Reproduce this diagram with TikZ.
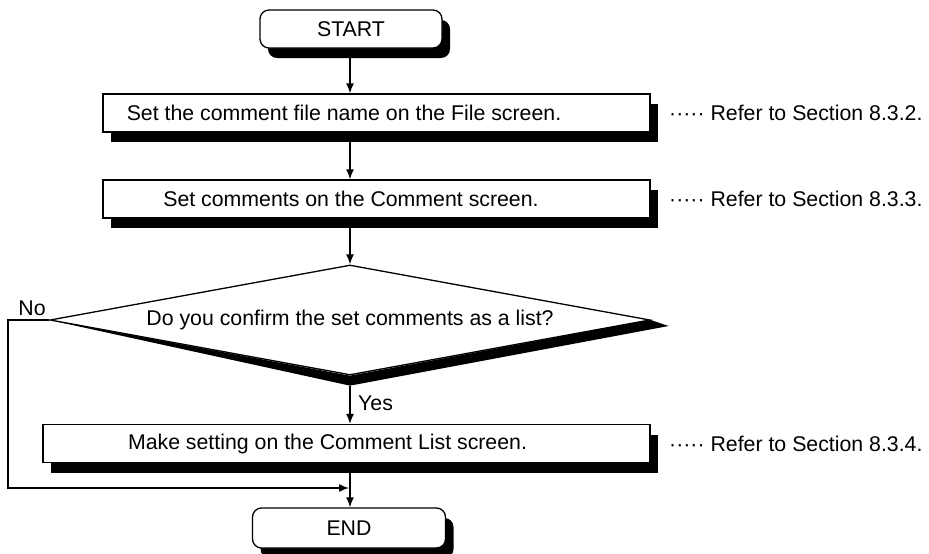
\documentclass[tikz,border=0pt]{standalone}
\usepackage{fontspec}
\setmainfont{Liberation Sans}
\usetikzlibrary{arrows.meta,shapes.geometric,shadows}
\begin{document}
\begin{tikzpicture}[x=1pt,y=-1pt,
  txt/.style={font=\fontsize{21.3}{24}\selectfont},
  proc/.style={txt, draw, line width=1.3pt, fill=white, minimum height=38pt, inner sep=0pt,
    drop shadow={shadow xshift=8pt, shadow yshift=-10pt, opacity=1, fill=black}},
  term/.style={proc, rounded corners=9pt},
  conn/.style={line width=1.5pt, -{Latex[length=10pt,width=8pt]}},
  lbl/.style={txt, inner sep=0pt}
]
\useasboundingbox (0,0) rectangle (929,554);
\coordinate (spine) at (350,0);
\node[term, minimum width=182pt] (start) at (351,29) {START};
\node[proc, minimum width=547pt] (b1) at (376.5,113) {Set the comment file name on the File screen.\hspace*{65pt}};
\node[proc, minimum width=547pt] (b2) at (376.5,199) {Set comments on the Comment screen.\hspace*{51pt}};
\node[txt, diamond, draw, line width=1.3pt, fill=white, aspect=5.45, inner sep=0pt,
  minimum width=600pt, minimum height=110pt] (dec) at (350,320) {Do you confirm the set comments as a list?};
\fill (dec.west) -- ([shift={(0,10)}]dec.south) -- ([shift={(18,6)}]dec.east) -- (dec.east) -- (dec.south) -- cycle;
\node[proc, minimum width=607pt] (b3) at (346.5,443.5) {Make setting on the Comment List screen.\hspace*{38pt}};
\node[term, minimum width=193pt, minimum height=40pt] (end) at (349,528) {END};

\node[lbl, anchor=west] (r1) at (669,113) {····· Refer to Section 8.3.2.};
\node[lbl, anchor=west] (r2) at (669,199) {····· Refer to Section 8.3.3.};
\node[lbl, anchor=west] (r3) at (669,443.5) {····· Refer to Section 8.3.4.};
\node[lbl] (no) at (32,308) {No};
\node[lbl, anchor=west] (yes) at (358,403) {Yes};

\coordinate (nl) at (8,322);
\coordinate (join) at (349,488);
\draw[conn] (start.south -| spine) -- (b1.north -| spine);
\draw[conn] (b1.south -| spine) -- (b2.north -| spine);
\draw[conn] (b2.south -| spine) -- (dec.north);
\draw[conn] ([shift={(0,10)}]dec.south) -- (b3.north -| spine);
\draw[conn] (b3.south -| spine) -- (end.north -| spine);
\draw[conn] (dec.west) -- (dec.west -| nl) -- (nl |- join) -- (join);
\end{tikzpicture}
\end{document}
